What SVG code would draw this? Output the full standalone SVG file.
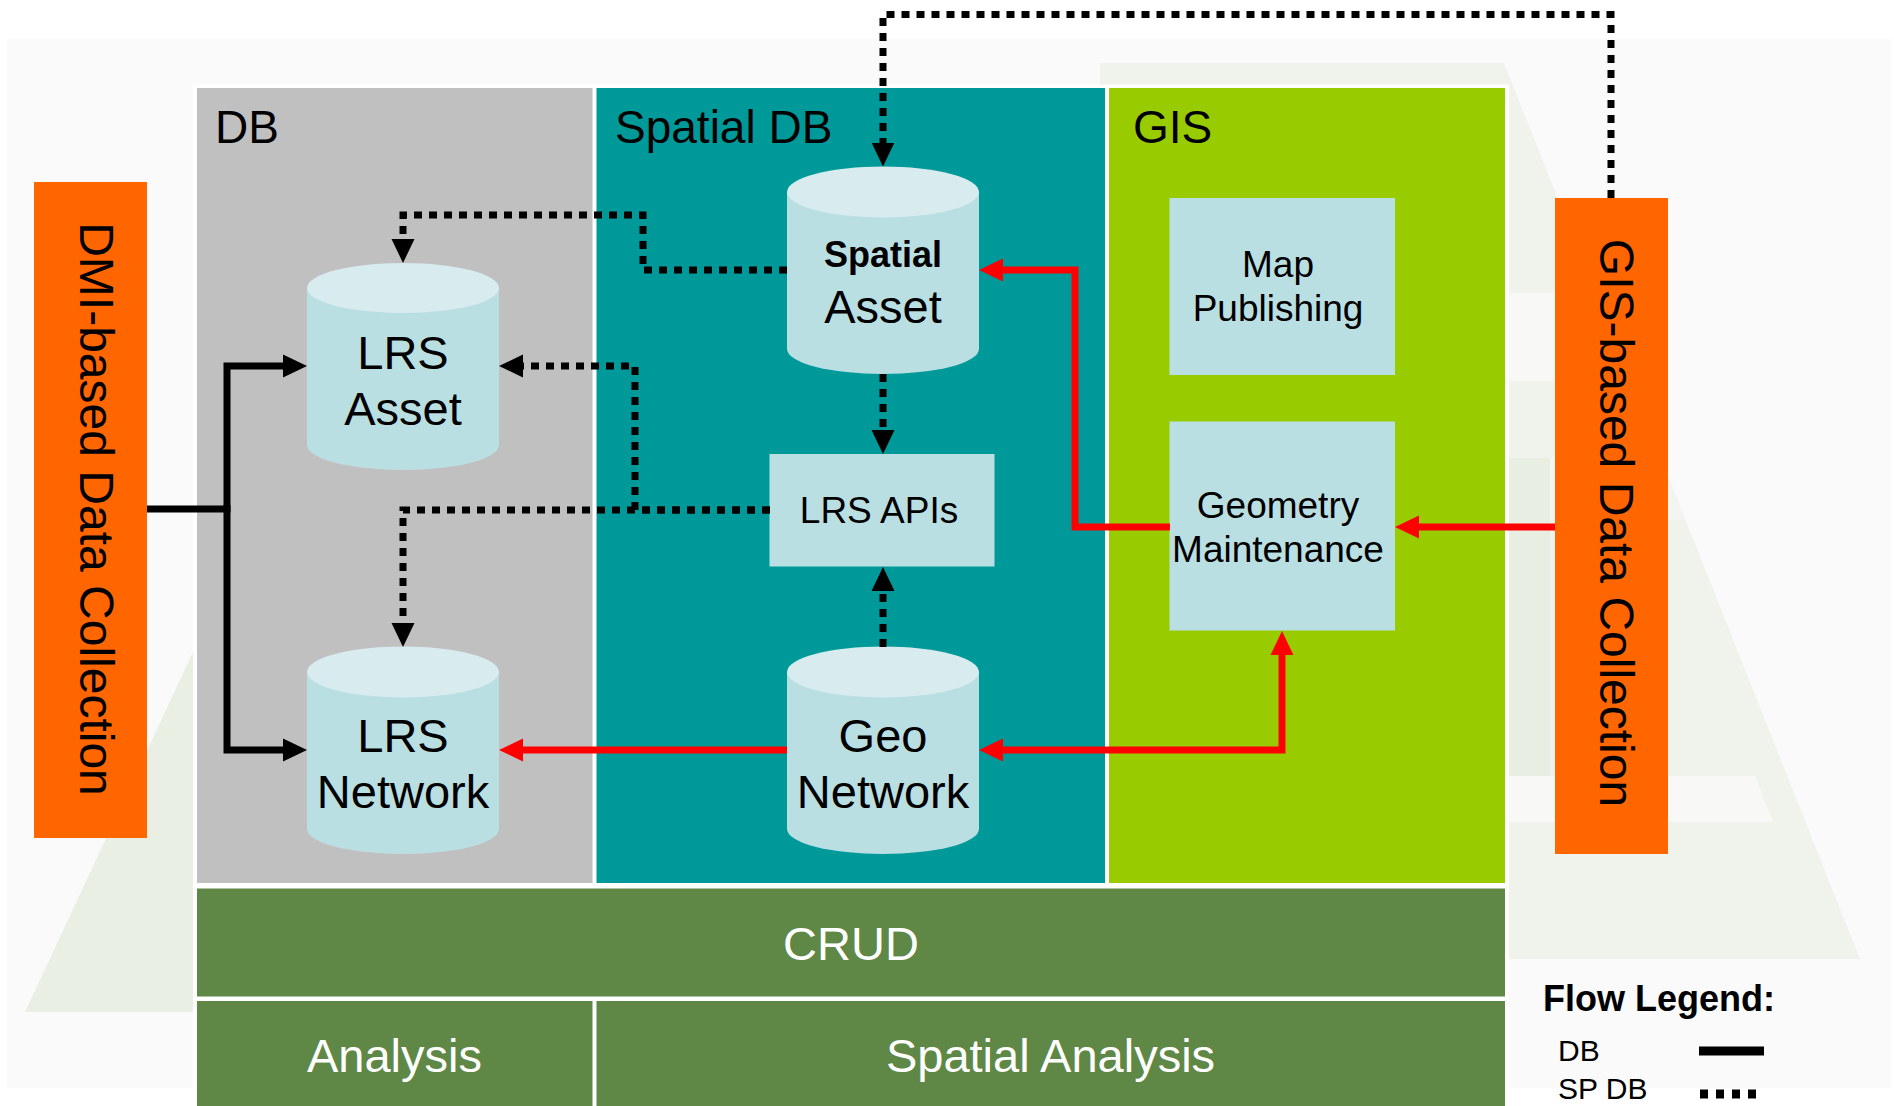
<svg xmlns="http://www.w3.org/2000/svg" width="1894" height="1106" viewBox="0 0 1894 1106">
<defs>
<style>
text{font-family:"Liberation Sans",Arial,sans-serif;fill:#000}
.title{font-size:46px}
.cyltxt{font-size:47px;text-anchor:middle}
.boxtxt{font-size:37px;text-anchor:middle}
.bartxt{font-size:47px;text-anchor:middle;fill:#fff}
.vtxt{font-size:48px;text-anchor:middle}
.body{fill:#badfe2}
.top{fill:#d8ecef}
.box{fill:#badfe2}
.orange{fill:#ff6600}
.bar{fill:#5f8746}
.solid{fill:none;stroke:#000;stroke-width:7;stroke-linejoin:miter}
.dot{fill:none;stroke:#000;stroke-width:7;stroke-dasharray:8 7}
.red{fill:none;stroke:#ff0000;stroke-width:7;stroke-linejoin:miter}
</style>
<marker id="ab" markerUnits="userSpaceOnUse" markerWidth="24" markerHeight="24" viewBox="0 0 24 24" refX="2" refY="12" orient="auto-start-reverse"><path d="M0,0.5 L24,12 L0,23.5 Z" fill="#000"/></marker>
<marker id="ar" markerUnits="userSpaceOnUse" markerWidth="24" markerHeight="24" viewBox="0 0 24 24" refX="2" refY="12" orient="auto-start-reverse"><path d="M0,0.5 L24,12 L0,23.5 Z" fill="#ff0000"/></marker>
</defs>

<!-- background -->
<g id="background">
<rect x="0" y="0" width="1894" height="1106" fill="#ffffff"/>
<rect x="7" y="39" width="1884" height="1049" fill="#fafafa"/>
<polygon points="1100,63 1504,63 1860,959 1100,959" fill="#eff3eb"/>
<polygon points="1505,293 1594,293 1629,381 1505,381" fill="#f8f9f6"/>
<polygon points="1505,458 1660,458 1686,520 1505,520" fill="#f3f6f0"/>
<polygon points="1505,458 1550,458 1550,776 1505,776" fill="#e8eee2"/>
<polygon points="1505,776 1755,776 1773,822 1505,822" fill="#f8f9f6"/>
<polygon points="25,1012 193,652 600,652 600,1012" fill="#e9efe3"/>
<rect x="193" y="84.5" width="1316" height="1030" fill="#ffffff"/>
</g>

<!-- panels -->
<g id="panel-db">
<rect x="197" y="88" width="395.5" height="795" fill="#c0c0c0"/>
<text class="title" x="215" y="142.5">DB</text>
</g>
<g id="panel-spatial-db">
<rect x="596.5" y="88" width="508.5" height="795" fill="#009999"/>
<text class="title" x="615" y="142.5">Spatial DB</text>
</g>
<g id="panel-gis">
<rect x="1109" y="88" width="396" height="795" fill="#99cc00"/>
<text class="title" x="1133" y="142.5">GIS</text>
</g>
<g id="crud">
<rect class="bar" x="197" y="888.5" width="1308" height="108"/>
<text class="bartxt" x="851" y="960">CRUD</text>
</g>
<g id="analysis">
<rect class="bar" x="197" y="1001" width="395.5" height="110"/>
<text class="bartxt" x="394.5" y="1072">Analysis</text>
</g>
<g id="spatial-analysis">
<rect class="bar" x="596.5" y="1001" width="908.5" height="110"/>
<text class="bartxt" x="1050.5" y="1072">Spatial Analysis</text>
</g>

<!-- side boxes -->
<g id="dmi-collection">
<rect class="orange" x="34" y="182" width="113" height="656"/>
<text class="vtxt" transform="translate(80,509) rotate(90)">DMI-based Data Collection</text>
</g>
<g id="gis-collection">
<rect class="orange" x="1555" y="198" width="113" height="656"/>
<text class="vtxt" transform="translate(1600,523) rotate(90)">GIS-based Data Collection</text>
</g>

<!-- cylinders -->
<g id="lrs-asset">
<path class="body" d="M307,288 V445 A96,25 0 0 0 499,445 V288 Z"/>
<ellipse class="top" cx="403" cy="288" rx="96" ry="25"/>
<text class="cyltxt" x="403" y="369">LRS</text>
<text class="cyltxt" x="403" y="425">Asset</text>
</g>
<g id="spatial-asset">
<path class="body" d="M787,192 V349 A96,25 0 0 0 979,349 V192 Z"/>
<ellipse class="top" cx="883" cy="192" rx="96" ry="25.5"/>
<text class="cyltxt" x="883" y="267" style="font-size:36px;font-weight:bold">Spatial</text>
<text class="cyltxt" x="883" y="323">Asset</text>
</g>
<g id="lrs-network">
<path class="body" d="M307,672 V829 A96,25 0 0 0 499,829 V672 Z"/>
<ellipse class="top" cx="403" cy="672" rx="96" ry="25.5"/>
<text class="cyltxt" x="403" y="752">LRS</text>
<text class="cyltxt" x="403" y="808">Network</text>
</g>
<g id="geo-network">
<path class="body" d="M787,672 V829 A96,25 0 0 0 979,829 V672 Z"/>
<ellipse class="top" cx="883" cy="672" rx="96" ry="25.5"/>
<text class="cyltxt" x="883" y="752">Geo</text>
<text class="cyltxt" x="883" y="808">Network</text>
</g>

<!-- boxes -->
<g id="lrs-apis">
<rect class="box" x="769.5" y="454" width="225" height="112.5"/>
<text class="boxtxt" x="879" y="523">LRS APIs</text>
</g>
<g id="map-publishing">
<rect class="box" x="1169.5" y="198" width="225.5" height="177"/>
<text class="boxtxt" x="1278" y="277">Map</text>
<text class="boxtxt" x="1278" y="321">Publishing</text>
</g>
<g id="geometry-maintenance">
<rect class="box" x="1169.5" y="421.5" width="225.5" height="209"/>
<text class="boxtxt" x="1278" y="518">Geometry</text>
<text class="boxtxt" x="1278" y="562">Maintenance</text>
</g>

<!-- connectors -->
<g id="connectors">
<path class="solid" d="M147,509 H227 V366 H285" marker-end="url(#ab)"/>
<path class="solid" d="M227,505 V750 H285" marker-end="url(#ab)"/>
<path class="dot" d="M1611,198 V14.5 H883 V144.5" marker-end="url(#ab)"/>
<path class="dot" d="M787,270 H643 V215 H403 V241" marker-end="url(#ab)"/>
<path class="dot" d="M883,374 V432" marker-end="url(#ab)"/>
<path class="dot" d="M770,510 H635 V366 H521" marker-end="url(#ab)"/>
<path class="dot" d="M770,510 H403 V625" marker-end="url(#ab)"/>
<path class="dot" d="M883,647 V589" marker-end="url(#ab)"/>
<path class="red" d="M1170,527 H1075 V270 H1001" marker-end="url(#ar)"/>
<path class="red" d="M1555,527 H1417" marker-end="url(#ar)"/>
<path class="red" d="M787,750 H521" marker-end="url(#ar)"/>
<path class="red" d="M1001,750 H1282 V653" marker-start="url(#ar)" marker-end="url(#ar)"/>
</g>

<!-- legend -->
<g id="legend">
<text x="1543" y="1011" style="font-size:36px;font-weight:bold">Flow Legend:</text>
<text x="1558" y="1061" style="font-size:30px">DB</text>
<text x="1558" y="1099" style="font-size:30px">SP DB</text>
<rect x="1699" y="1046.5" width="65" height="9" fill="#000"/>
<line x1="1700" y1="1094" x2="1756" y2="1094" stroke="#000" stroke-width="9" stroke-dasharray="8 8"/>
</g>
</svg>
